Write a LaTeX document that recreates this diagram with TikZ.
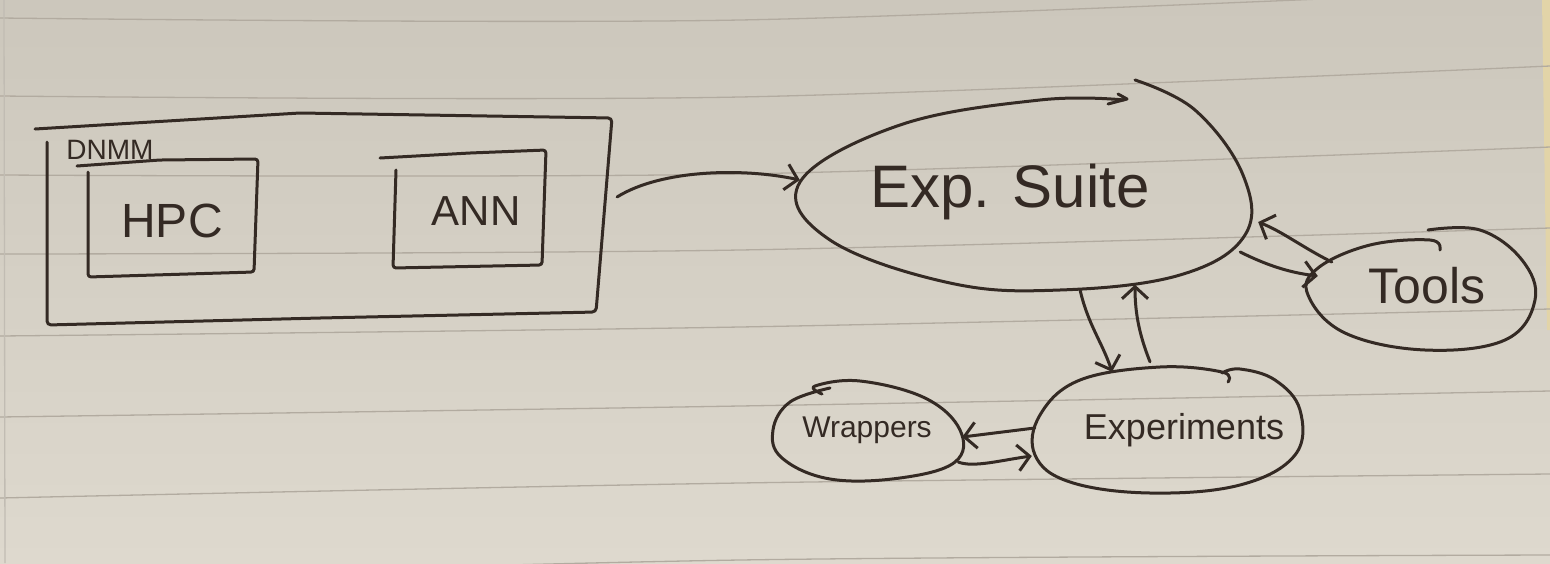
\documentclass[tikz,border=0pt]{standalone}
\usepackage{fontspec}
\setmainfont{Liberation Sans}
\usetikzlibrary{arrows.meta,shapes.geometric}
\definecolor{papertop}{RGB}{204,199,188}
\definecolor{paperbot}{RGB}{222,217,206}
\definecolor{rulec}{RGB}{178,171,160}
\definecolor{inkc}{RGB}{52,42,36}
\definecolor{edgec}{RGB}{226,212,168}
\begin{document}
\begin{tikzpicture}[x=1pt,y=-1pt,
  ink/.style={draw=inkc, line width=3pt, line cap=round, line join=round},
  arr/.style={ink, -{Straight Barb[length=12pt,width=26pt]}},
  blob/.style={ellipse, draw=none, inner sep=0pt, text=inkc},
  boxn/.style={rectangle, draw=none, inner sep=0pt, text=inkc},
  rulel/.style={draw=rulec, line width=1.3pt}]
\useasboundingbox (0,0) rectangle (1550,563);
\clip (0,0) rectangle (1550,563);
% paper
\shade[top color=papertop, bottom color=paperbot] (0,0) rectangle (1550,563);
\fill[edgec] (1542,0) -- (1550,0) -- (1550,330) -- (1547,330) -- cycle;
\foreach \a/\b/\c in {18/20/-11, 96/97/66, 175/174/147, 254/250/228, 336/327/309, 417/406/391, 498/483/474, 579/560/555}
  \draw[rulel] plot[smooth] coordinates {(0,\a) (740,\b) (1550,\c)};
\draw[rulel, draw=rulec!80] (4,0) -- (5,563);

% nodes (anchors and texts)
\node[boxn, minimum width=578pt, minimum height=200pt, rotate=1.2] (dnmm) at (325,220) {};
\node[boxn, font=\fontsize{28}{28}\selectfont] (dnmmlbl) at (110,150) {DNMM};
\node[boxn, minimum width=168pt, minimum height=110pt, font=\fontsize{48}{48}\selectfont] (hpc) at (172,221) {HPC};
\node[boxn, minimum width=150pt, minimum height=110pt, font=\fontsize{42}{42}\selectfont] (ann) at (470,211) {\makebox[0pt]{\hspace*{12pt}ANN}};
\node[blob, minimum width=460pt, minimum height=195pt, font=\fontsize{60}{60}\selectfont] (exp) at (1022,192) {\makebox[0pt]{\hspace*{-24pt}\raisebox{-5pt}{Exp. Suite}}};
\node[blob, minimum width=230pt, minimum height=122pt, font=\fontsize{50}{50}\selectfont] (tools) at (1420,290) {\makebox[0pt]{\hspace*{14pt}\raisebox{9pt}{Tools}}};
\node[blob, minimum width=270pt, minimum height=124pt, font=\fontsize{36}{36}\selectfont] (expm) at (1167,430) {\makebox[0pt]{\hspace*{34pt}\raisebox{2pt}{Experiments}}};
\node[blob, minimum width=190pt, minimum height=100pt, font=\fontsize{30}{30}\selectfont] (wrap) at (867,430) {\makebox[0pt]{Wrappers}};

% hand-drawn outlines
\draw[ink, rounded corners=4pt] (47,142) -- (47,325) -- (320,318) -- (596,312) -- (612,118) -- (300,113) -- (35,129);
\draw[ink, rounded corners=3pt] (88,172) -- (88,277) -- (254,272) -- (258,159) -- (160,160) -- (77,166);
\draw[ink, rounded corners=3pt] (396,170) -- (393,268) -- (542,265) -- (546,150) -- (470,153) -- (380,158);
\draw[ink] plot[smooth, tension=0.65] coordinates {(1124,100) (1040,100) (900,125) (800,182) (830,240) (950,283) (1060,290) (1180,275) (1245,235) (1243,175) (1195,110) (1135,80)};
\draw[ink] (1108,104) -- (1127,99) -- (1118,94);
\draw[ink] plot[smooth, tension=0.65] coordinates {(1428,230) (1480,230) (1522,260) (1535,300) (1505,340) (1425,350) (1345,333) (1308,295) (1318,268) (1370,245) (1430,240) (1440,250)};
\draw[ink] plot[smooth, tension=0.65] coordinates {(1228,382) (1222,372) (1160,367) (1080,380) (1040,415) (1035,455) (1070,482) (1150,493) (1240,485) (1295,455) (1300,410) (1275,380) (1240,369) (1222,373)};
\draw[ink] plot[smooth, tension=0.65] coordinates {(822,394) (815,386) (860,381) (925,398) (960,430) (955,462) (900,478) (830,479) (782,458) (773,430) (790,402) (830,388)};

% connectors
\draw[arr] ([shift={(3,-17)}]dnmm.east) .. controls +(45,-28) and +(-55,-12) .. ([shift={(8,-12)}]exp.west);
\draw[arr] ([shift={(27,-28)}]tools.west) .. controls +(-30,-15) and +(25,10) .. ([shift={(6,30)}]exp.east);
\draw[arr] ([shift={(-12,60)}]exp.east) .. controls +(30,15) and +(-25,-3) .. ([shift={(13,-14)}]tools.west);
\draw[arr] ([shift={(58,0)}]exp.south) .. controls +(8,35) and +(-10,-30) .. ([shift={(-55,4)}]expm.north);
\draw[arr] ([shift={(-17,-6)}]expm.north) .. controls +(-12,-30) and +(0,25) .. ([shift={(113,-5)}]exp.south);
\draw[arr] ([shift={(3,-2)}]expm.west) -- ([shift={(0,7)}]wrap.east);
\draw[arr] ([shift={(-4,32)}]wrap.east) .. controls +(15,6) and +(-30,4) .. ([shift={(0,26)}]expm.west);
\end{tikzpicture}
\end{document}
